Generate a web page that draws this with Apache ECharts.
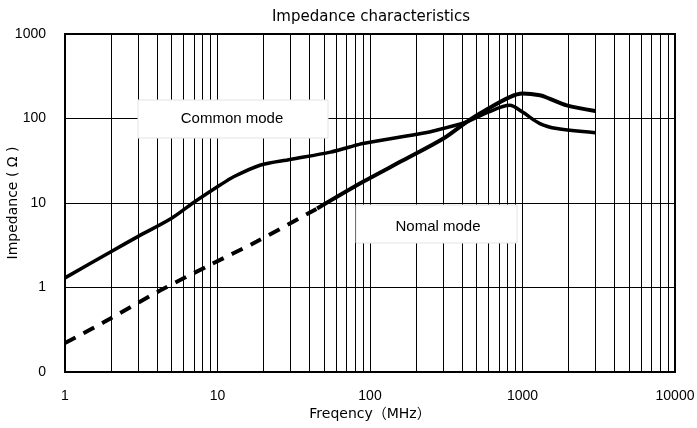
<!DOCTYPE html>
<html>
<head>
<meta charset="utf-8">
<script src="https://cdn.jsdelivr.net/npm/echarts@6/dist/echarts.min.js"></script>
<style>
  html, body { margin: 0; padding: 0; background: #fff; }
  #chart { width: 697px; height: 428px; }
</style>
</head>
<body>
<div id="chart"></div>
<script>
// Common mode (solid curve)
const freqCommon = [1, 2, 3, 5, 6.9, 10.4, 12.6, 19, 30, 55, 73.5, 90, 203, 260, 430, 595, 825, 1000, 1300, 1680, 3000];
const zCommon = [1.3, 2.65, 4.0, 6.6, 10, 16.3, 20.2, 28, 32.7, 40, 46, 50.6, 65, 71, 91, 119, 143, 119, 87, 76, 68];

// Nomal mode - dashed low-frequency part
const freqNormalLow = [1, 1.78, 4.2, 8.93, 18.1, 45];
const zNormalLow = [0.22, 0.385, 0.92, 1.85, 3.5, 8.6];

// Nomal mode - solid high-frequency part
const freqNormalHigh = [45, 90, 165, 303, 430, 597, 825, 1000, 1300, 1500, 1950, 3000];
const zNormalHigh = [8.6, 17.8, 32, 58, 91, 131, 179, 197, 188, 172, 143, 123];

// minor vertical grid lines (2..9 in each decade)
const minorFreqs = [];
[1, 10, 100, 1000].forEach(d => {
  [2, 3, 4, 5, 6, 7, 8, 9].forEach(m => minorFreqs.push(m * d));
});

const pairs = (xs, ys) => xs.map((x, i) => [x, ys[i]]);

const chart = echarts.init(document.getElementById('chart'));

const textFont = 'DejaVu Sans, Noto Sans CJK JP, sans-serif';

const option = {
  animation: false,
  backgroundColor: '#fff',
  grid: {
    left: 65,
    right: 22,
    top: 34,
    bottom: 56,
    containLabel: false,
    outerBoundsMode: 'none',
    show: true,
    borderColor: '#000',
    borderWidth: 2,
    backgroundColor: 'transparent'
  },
  xAxis: {
    type: 'log',
    logBase: 10,
    min: 1,
    max: 10000,
    name: 'Freqency（MHz）',
    nameLocation: 'middle',
    nameGap: 35,
    nameMoveOverlap: false,
    nameTextStyle: { fontFamily: textFont, fontSize: 14, color: '#000' },
    axisLine: { lineStyle: { color: '#000', width: 2 } },
    axisTick: { show: false },
    axisLabel: {
      margin: 17,
      fontFamily: 'Liberation Sans',
      fontSize: 14,
      color: '#000',
      formatter: v => String(Math.round(v))
    },
    splitLine: { show: true, lineStyle: { color: '#000', width: 1 } }
  },
  yAxis: {
    type: 'log',
    logBase: 10,
    min: 0.1,
    max: 1000,
    name: 'Impedance ( Ω )',
    nameLocation: 'middle',
    nameGap: 45,
    nameMoveOverlap: false,
    nameRotate: 90,
    nameTextStyle: { fontFamily: textFont, fontSize: 14, color: '#000' },
    axisLine: { lineStyle: { color: '#000', width: 2 } },
    axisTick: { show: false },
    axisLabel: {
      margin: 19,
      fontFamily: 'Liberation Sans',
      fontSize: 14,
      color: '#000',
      formatter: v => (v < 1 ? '0' : String(Math.round(v)))
    },
    splitLine: { show: true, lineStyle: { color: '#000', width: 1 } }
  },
  series: [
    {
      name: 'Common mode',
      type: 'line',
      data: pairs(freqCommon, zCommon),
      smooth: 0.3,
      showSymbol: false,
      lineStyle: { color: '#000', width: 3.5 },
      z: 5,
      markLine: {
        silent: true,
        symbol: ['none', 'none'],
        label: { show: false },
        lineStyle: { color: '#000', width: 1, type: 'solid' },
        data: minorFreqs.map(f => ({ xAxis: f })),
        z: 1
      }
    },
    {
      name: 'Nomal mode',
      type: 'line',
      data: pairs(freqNormalLow, zNormalLow),
      smooth: 0.3,
      showSymbol: false,
      lineStyle: { color: '#000', width: 4, type: [12, 9] },
      z: 5
    },
    {
      name: 'Nomal mode',
      type: 'line',
      data: pairs(freqNormalHigh, zNormalHigh),
      smooth: 0.3,
      showSymbol: false,
      lineStyle: { color: '#000', width: 4 },
      z: 5
    }
  ],
  graphic: [
    {
      type: 'text',
      x: 371, y: 17,
      style: {
        text: 'Impedance characteristics',
        fontFamily: textFont,
        fontSize: 15,
        fill: '#000',
        align: 'center',
        verticalAlign: 'middle'
      },
      z: 101
    },
    {
      type: 'rect',
      shape: { x: 138, y: 100, width: 190, height: 38 },
      style: { fill: '#fff', stroke: '#e4e4e4', lineWidth: 1 },
      z: 100
    },
    {
      type: 'text',
      x: 232, y: 119,
      style: {
        text: 'Common mode',
        fontFamily: 'Liberation Sans',
        fontSize: 15,
        fill: '#000',
        align: 'center',
        verticalAlign: 'middle'
      },
      z: 101
    },
    {
      type: 'rect',
      shape: { x: 356, y: 205, width: 161, height: 38 },
      style: { fill: '#fff', stroke: '#e4e4e4', lineWidth: 1 },
      z: 100
    },
    {
      type: 'text',
      x: 438, y: 227,
      style: {
        text: 'Nomal mode',
        fontFamily: 'Liberation Sans',
        fontSize: 15,
        fill: '#000',
        align: 'center',
        verticalAlign: 'middle'
      },
      z: 101
    }
  ]
};

chart.setOption(option);
</script>
</body>
</html>
